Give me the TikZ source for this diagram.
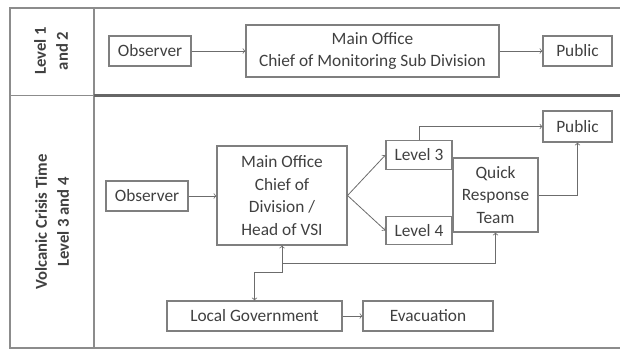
\documentclass[tikz,border=0pt]{standalone}
\usepackage{fontspec}
\setmainfont{Carlito}
\usepackage{xcolor}
\definecolor{boxline}{HTML}{7F7F7F}
\definecolor{inktext}{HTML}{404040}
\definecolor{frameline}{HTML}{8C8C8C}
\tikzstyle{flow-box} = [draw=boxline, line width=0.8pt, rectangle, inner sep=0pt,
    text=inktext, align=center, font=\fontsize{13}{17}\selectfont]
\tikzstyle{lane-title} = [text=inktext, align=center, rotate=90,
    font=\fontsize{12.5}{16.5}\selectfont\bfseries]
\tikzstyle{flow-arrow} = [draw=boxline!85!black, line width=0.6pt]

\begin{document}
\begin{tikzpicture}[x=0.75pt, y=-0.75pt]
\useasboundingbox (0,0) rectangle (620,350);
% frame and lanes
\draw[frameline, line width=0.8pt] (620,8) -- (10,8) -- (10,348) -- (620,348);
\draw[frameline, line width=0.8pt] (94,8) -- (94,348);
\draw[frameline, line width=0.8pt] (10,95.5) -- (94,95.5);
\draw[black!60, line width=1.6pt] (94,95.5) -- (620,95.5);
\node [lane-title] (lane1) at (51,51) {Level 1\\and 2};
\node [lane-title] (lane2) at (52,222) {Volcanic Crisis Time\\Level 3 and 4};

% level 1 and 2
\node [flow-box, minimum width=61.5pt, minimum height=22.5pt] (obs1) at (150,51) {Observer};
\node [flow-box, minimum width=189.75pt, minimum height=39pt] (main1) at (372.5,51)
    {Main Office\\Chief of Monitoring Sub Division};
\node [flow-box, minimum width=51.75pt, minimum height=22.5pt] (pub1) at (577.5,51) {Public};
\draw [flow-arrow, ->] (obs1) -- (main1);
\draw [flow-arrow, ->] (main1) -- (pub1);

% level 3 and 4
\node [flow-box, minimum width=61.5pt, minimum height=22.5pt] (obs2) at (147,196) {Observer};
\node [flow-box, minimum width=97.5pt, minimum height=74.25pt] (main2) at (282,195.5)
    {Main Office\\Chief of\\Division /\\Head of VSI};
\node [flow-box, minimum width=49.5pt, minimum height=21.4pt] (lvl3) at (419,155) {Level 3};
\node [flow-box, minimum width=49.5pt, minimum height=21.4pt] (lvl4) at (419,230.5) {Level 4};
\node [flow-box, minimum width=63.75pt, minimum height=55.5pt] (qrt) at (495.5,195)
    {Quick\\Response\\Team};
\node [flow-box, minimum width=51.75pt, minimum height=23.25pt] (pub2) at (577.5,126.5) {Public};
\node [flow-box, minimum width=131.25pt, minimum height=22.5pt] (locgov) at (254.5,316) {Local Government};
\node [flow-box, minimum width=97.5pt, minimum height=22.5pt] (evac) at (428,316) {Evacuation};

\draw [flow-arrow, ->] (obs2) -- (main2.west |- obs2);
\draw [flow-arrow, ->] (main2.east) -- (lvl3.west);
\draw [flow-arrow, ->] (main2.east) -- (lvl4.west);
\draw [flow-arrow, ->] (lvl3.north) |- (pub2.west);
\draw [flow-arrow, ->] (qrt.east) -| (pub2.south);
\draw [flow-arrow, <->] (locgov.north) -- ++(0,-28) -| (main2.south);
\path (main2.south) ++(0,18) coordinate (tap);
\draw [flow-arrow, ->] (tap) -| (qrt.south);
\draw [flow-arrow, ->] (locgov) -- (evac);
\end{tikzpicture}
\end{document}
